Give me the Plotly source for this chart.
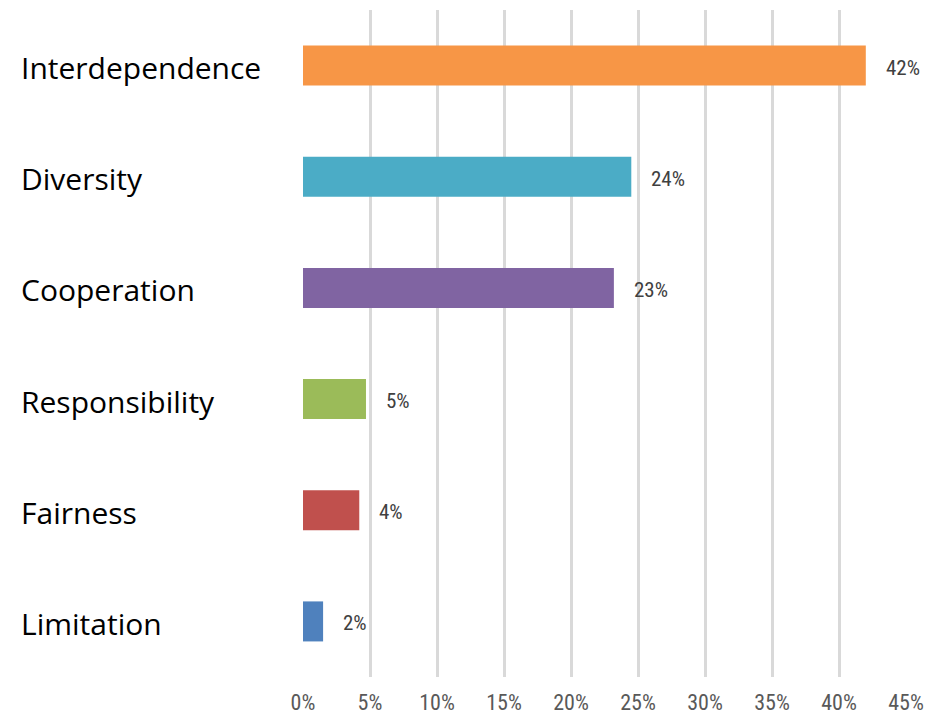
import plotly.graph_objects as go

categories = ["Interdependence", "Diversity", "Cooperation", "Responsibility", "Fairness", "Limitation"]
values = [0.42, 0.245, 0.232, 0.047, 0.042, 0.015]
labels = ["42%", "24%", "23%", "5%", "4%", "2%"]
colors = ["#F79646", "#4BACC6", "#8064A2", "#9BBB59", "#C0504D", "#4F81BD"]
tick_vals = [0, 0.05, 0.10, 0.15, 0.20, 0.25, 0.30, 0.35, 0.40, 0.45]
tick_text = ["0%", "5%", "10%", "15%", "20%", "25%", "30%", "35%", "40%", "45%"]

NARROW = "Roboto Condensed, Liberation Sans Narrow, Liberation Sans, sans-serif"

L, R, T, B = 303, 27, 10, 37
W, H = 933, 714

fig = go.Figure()
fig.add_trace(go.Bar(
    y=categories, x=values, orientation="h",
    marker=dict(color=colors, line=dict(width=0)),
    width=0.36, hoverinfo="skip",
))

annotations = []
for c, v, t in zip(categories, values, labels):
    annotations.append(dict(
        x=v, y=c, xref="x", yref="y", text=t, showarrow=False,
        xanchor="left", yanchor="middle", xshift=18, yshift=-2,
        font=dict(family=NARROW, size=21, color="#404040", weight=400),
    ))
for c in categories:
    annotations.append(dict(
        x=-L / (W - L - R), y=c, xref="paper", yref="y", text=c,
        showarrow=False, xanchor="left", yanchor="middle",
        xshift=19, yshift=-2,
        font=dict(family="Open Sans", size=30, color="#000000"),
    ))

fig.update_layout(
    width=W, height=H,
    margin=dict(l=L, r=R, t=T, b=B, autoexpand=False),
    paper_bgcolor="white", plot_bgcolor="white",
    showlegend=False,
    annotations=annotations,
    xaxis=dict(
        range=[0, 0.45], tickvals=tick_vals, ticktext=tick_text,
        showgrid=True, gridcolor="#D9D9D9", gridwidth=2.5,
        zeroline=False, showline=False, ticks="",
        tickfont=dict(family=NARROW, size=22, color="#595959", weight=400),
        ticklabelstandoff=10, automargin=False,
        fixedrange=True,
    ),
    yaxis=dict(
        categoryorder="array", categoryarray=categories[::-1],
        range=[-0.5, 5.5], showticklabels=False, showgrid=False,
        zeroline=False, showline=False, ticks="", fixedrange=True,
        automargin=False,
    ),
)

fig.write_html("out.html", config={"displayModeBar": False},
               post_script="document.body.style.margin='0';")
